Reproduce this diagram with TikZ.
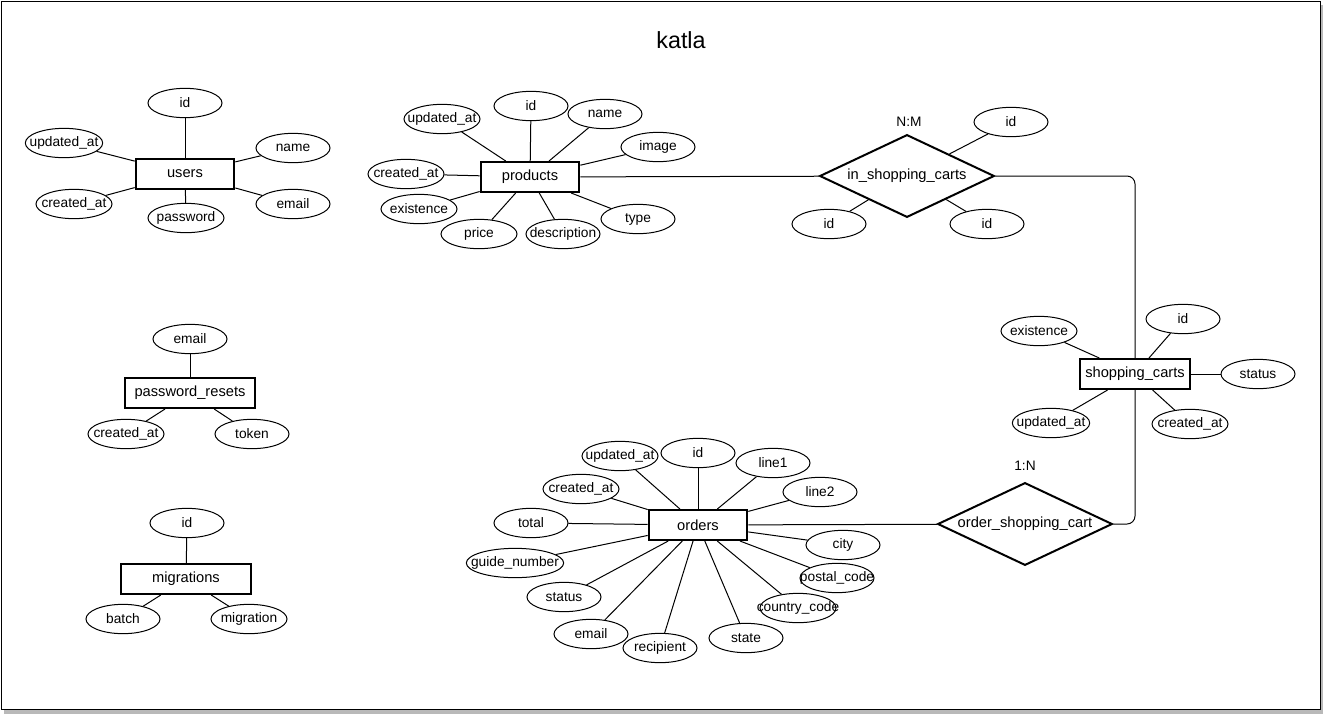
\documentclass[tikz,border=0pt]{standalone}
\usepackage{fontspec}
\setmainfont{Liberation Sans}
\usetikzlibrary{shapes.geometric}
\newcommand\attrfont{\fontsize{10.3}{12}\selectfont}
\newcommand\entfont{\fontsize{11}{13}\selectfont}

\begin{document}
\begin{tikzpicture}[x=0.75pt,y=-0.75pt,line width=0.75pt,
  entity/.style={draw,line width=1.5pt,minimum width=74pt,minimum height=22.5pt,inner sep=0pt,font=\entfont},
  attr/.style={draw,ellipse,minimum width=55.5pt,minimum height=22pt,inner sep=0pt,font=\attrfont,
    execute at begin node={\hbox to 0pt\bgroup\hss},execute at end node={\hss\egroup}},
  rel/.style={draw,diamond,aspect=2.1,line width=1.5pt,minimum width=131pt,minimum height=62pt,inner sep=0pt,font=\entfont},
  card/.style={font=\attrfont}]
  \useasboundingbox (0,0) rectangle (1323,714);
  % frame
  \fill[gray!55] (4,5) rectangle (1323,714);
  \draw[fill=white] (1,1) rectangle (1320,709);
  \node[font=\fontsize{17.5}{20}\selectfont] (title) at (681,40) {katla};

  % users
  \node[entity] (users) at (185,174) {users};
  \node[attr] (u-id) at (185,103) {id};
  \node[attr,minimum width=58pt] (u-upd) at (64,143) {updated\_at};
  \node[attr] (u-name) at (293,148) {name};
  \node[attr,minimum width=57pt] (u-cre) at (74,204) {created\_at};
  \node[attr,minimum width=57pt] (u-pass) at (186,218) {password};
  \node[attr] (u-email) at (293,204) {email};
  \draw (users) -- (u-id);
  \draw (users) -- (u-upd);
  \draw (users) -- (u-name);
  \draw (users) -- (u-cre);
  \draw (users) -- (u-pass);
  \draw (users) -- (u-email);

  % products
  \node[entity] (products) at (530,177) {products};
  \node[attr] (p-id) at (531,106) {id};
  \node[attr] (p-name) at (605,114) {name};
  \node[attr,minimum width=57pt] (p-upd) at (442,119) {updated\_at};
  \node[attr] (p-img) at (658,147) {image};
  \node[attr,minimum width=57pt] (p-cre) at (406,174) {created\_at};
  \node[attr,minimum width=57pt] (p-exi) at (419,209) {existence};
  \node[attr,minimum width=57pt] (p-price) at (479,234) {price};
  \node[attr] (p-desc) at (563,234) {description};
  \node[attr] (p-type) at (638,219) {type};
  \draw (products) -- (p-id);
  \draw (products) -- (p-name);
  \draw (products) -- (p-upd);
  \draw (products) -- (p-img);
  \draw (products) -- (p-cre);
  \draw (products) -- (p-exi);
  \draw (products) -- (p-price);
  \draw (products) -- (p-desc);
  \draw (products) -- (p-type);

  % in_shopping_carts
  \node[rel] (isc) at (907,176) {in\_shopping\_carts};
  \node[card] (isc-card) at (909,122) {N:M};
  \node[attr] (isc-id1) at (1011,122) {id};
  \node[attr] (isc-id2) at (829,224) {id};
  \node[attr] (isc-id3) at (987,224) {id};
  \draw (isc) -- (isc-id1);
  \draw (isc) -- (isc-id2);
  \draw (isc) -- (isc-id3);

  % shopping_carts
  \node[entity,minimum width=82pt] (carts) at (1135,374) {shopping\_carts};
  \node[attr,minimum width=57pt] (c-exi) at (1039,331) {existence};
  \node[attr] (c-id) at (1183,319) {id};
  \node[attr] (c-stat) at (1258,374) {status};
  \node[attr,minimum width=58pt] (c-upd) at (1051,423) {updated\_at};
  \node[attr,minimum width=57pt] (c-cre) at (1190,424) {created\_at};
  \draw (carts) -- (c-exi);
  \draw (carts) -- (c-id);
  \draw (carts) -- (c-stat);
  \draw (carts) -- (c-upd);
  \draw (carts) -- (c-cre);

  % order_shopping_cart
  \node[rel] (osc) at (1025,524) {order\_shopping\_cart};
  \node[card] (osc-card) at (1025,466) {1:N};

  % orders
  \node[entity] (orders) at (698,525) {orders};
  \node[attr,minimum width=57pt] (o-upd) at (620,456) {updated\_at};
  \node[attr] (o-id) at (698,453) {id};
  \node[attr] (o-l1) at (773,463) {line1};
  \node[attr] (o-l2) at (820,492) {line2};
  \node[attr,minimum width=57pt] (o-cre) at (581,489) {created\_at};
  \node[attr] (o-tot) at (531,523) {total};
  \node[attr,minimum width=73pt] (o-guide) at (515,563) {guide\_number};
  \node[attr] (o-city) at (843,545) {city};
  \node[attr] (o-post) at (837,578) {postal\_code};
  \node[attr] (o-stat) at (564,597) {status};
  \node[attr,minimum width=57pt] (o-country) at (798,608) {country\_code};
  \node[attr] (o-email) at (591,634) {email};
  \node[attr] (o-rec) at (660,648) {recipient};
  \node[attr] (o-state) at (746,638) {state};
  \draw (orders) -- (o-upd);
  \draw (orders) -- (o-id);
  \draw (orders) -- (o-l1);
  \draw (orders) -- (o-l2);
  \draw (orders) -- (o-cre);
  \draw (orders) -- (o-tot);
  \draw (orders) -- (o-guide);
  \draw (orders) -- (o-city);
  \draw (orders) -- (o-post);
  \draw (orders) -- (o-stat);
  \draw (orders) -- (o-country);
  \draw (orders) -- (o-email);
  \draw (orders) -- (o-rec);
  \draw (orders) -- (o-state);

  % relationships
  \draw (products) -- (isc);
  \draw[rounded corners=6pt] (isc.east) -- (carts.north |- isc.east) -- (carts.north);
  \draw[rounded corners=6pt] (carts.south) -- (carts.south |- osc.east) -- (osc.east);
  \draw (osc) -- (orders);

  % password_resets
  \node[entity,minimum width=98pt] (resets) at (190,393) {password\_resets};
  \node[attr] (r-email) at (190,339) {email};
  \node[attr,minimum width=57pt] (r-cre) at (126,434) {created\_at};
  \node[attr] (r-tok) at (252,434) {token};
  \draw (resets) -- (r-email);
  \draw (resets) -- (r-cre);
  \draw (resets) -- (r-tok);

  % migrations
  \node[entity,minimum width=97pt] (migr) at (186,579) {migrations};
  \node[attr] (m-id) at (187,523) {id};
  \node[attr] (m-batch) at (123,619) {batch};
  \node[attr,minimum width=57pt] (m-migr) at (249,619) {migration};
  \draw (migr) -- (m-id);
  \draw (migr) -- (m-batch);
  \draw (migr) -- (m-migr);
\end{tikzpicture}
\end{document}
